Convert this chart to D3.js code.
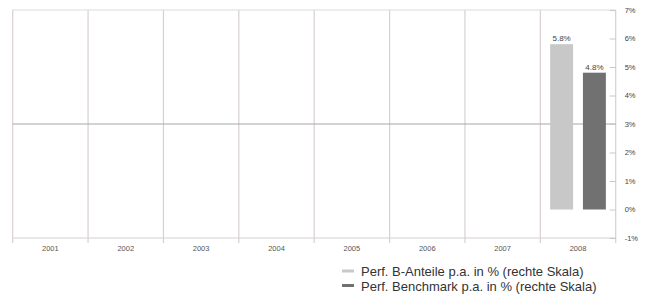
<!DOCTYPE html>
<html>
<head>
<meta charset="utf-8">
<script src="https://cdn.jsdelivr.net/npm/d3@7"></script>
<style>
  body { margin: 0; background: #fff; }
  svg { display: block; font-family: "Liberation Sans", Arial, sans-serif; }
</style>
</head>
<body>
<svg id="chart" width="648" height="294"></svg>
<script>
// chart data
const years = ["2001", "2002", "2003", "2004", "2005", "2006", "2007", "2008"];
const perfAnteile = [null, null, null, null, null, null, null, 5.8];
const perfBenchmark = [null, null, null, null, null, null, null, 4.8];
const seriesNames = ["Perf. B-Anteile p.a. in % (rechte Skala)", "Perf. Benchmark p.a. in % (rechte Skala)"];
const seriesColors = ["#c8c8c8", "#717171"];
const yTicks = [-1, 0, 1, 2, 3, 4, 5, 6, 7];

function drawChart(holder){
	let svg = d3.select(holder);
	let margin = {"left": 12.7, "top": 10, "right": 32.3, "bottom": 56};
	let width = +svg.attr("width");
	let height = +svg.attr("height");
	let x0 = margin.left, x1 = width - margin.right;
	let y0 = margin.top, y1 = height - margin.bottom;

	let xScale = d3.scaleBand()
		.domain(years)
		.range([x0, x1]);
	let inner = d3.scaleBand()
		.domain(seriesNames)
		.range([0, xScale.bandwidth()])
		.paddingInner(0.3)
		.paddingOuter(0.3);
	let yScale = d3.scaleLinear()
		.domain([-1, 7])
		.range([y1, y0]);

	let grid = svg.append("g");
	// vertical grid / borders
	grid.selectAll("line.v")
		.data(years.map(y => xScale(y)).concat([x1]))
		.enter()
		.append("line")
		.attr("x1", d => d).attr("x2", d => d)
		.attr("y1", y0).attr("y2", y1 + 5)
		.attr("stroke", "#d8cfd2")
		.attr("stroke-width", 1.2);
	// top border
	grid.append("line")
		.attr("x1", x0).attr("x2", x1)
		.attr("y1", y0).attr("y2", y0)
		.attr("stroke", "#dcdcdc").attr("stroke-width", 1.2);
	// bottom axis line
	grid.append("line")
		.attr("x1", x0).attr("x2", x1)
		.attr("y1", y1).attr("y2", y1)
		.attr("stroke", "#d8cfd2").attr("stroke-width", 1.2);
	// line at 3%
	grid.append("line")
		.attr("x1", x0).attr("x2", x1)
		.attr("y1", yScale(3)).attr("y2", yScale(3))
		.attr("stroke", "#a8a8a8").attr("stroke-width", 1.2);

	// right axis
	let axisY = svg.append("g")
		.attr("transform", "translate(" + x1 + ",0)")
		.call(d3.axisRight(yScale).tickValues(yTicks).tickSize(-6).tickPadding(9).tickFormat(d => d + "%"));
	axisY.select(".domain").remove();
	axisY.selectAll(".tick line").attr("stroke", "#c8c8c8");
	axisY.selectAll(".tick text")
		.attr("fill", "#444")
		.style("font-size", "7.5px")
		.attr("text-anchor", "start");

	// x labels
	svg.append("g").selectAll("text.xLabel")
		.data(years)
		.enter()
		.append("text")
		.attr("class", "xLabel")
		.attr("x", d => xScale(d) + xScale.bandwidth() / 2)
		.attr("y", y1 + 13)
		.attr("text-anchor", "middle")
		.attr("fill", "#555")
		.style("font-size", "7.5px")
		.text(d => d);

	// bars
	let series = [perfAnteile, perfBenchmark];
	let barData = [];
	years.forEach(function(yr, i){
		series.forEach(function(s, j){
			if (s[i] != null){
				barData.push({"year": yr, "name": seriesNames[j], "value": s[i], "color": seriesColors[j]});
			}
		});
	});

	let bars = svg.append("g");
	bars.selectAll("rect")
		.data(barData)
		.enter()
		.append("rect")
		.attr("x", d => xScale(d.year) + inner(d.name))
		.attr("width", inner.bandwidth())
		.attr("y", d => yScale(Math.max(0, d.value)))
		.attr("height", d => Math.abs(yScale(d.value) - yScale(0)))
		.attr("fill", d => d.color);

	bars.selectAll("text")
		.data(barData)
		.enter()
		.append("text")
		.attr("x", d => xScale(d.year) + inner(d.name) + inner.bandwidth() / 2)
		.attr("y", d => yScale(d.value) - 3)
		.attr("text-anchor", "middle")
		.attr("fill", "#444")
		.style("font-size", "8px")
		.text(d => d3.format(".1f")(d.value) + "%");

	// legend
	let legend = svg.append("g").selectAll("g.leg")
		.data(seriesNames)
		.enter()
		.append("g")
		.attr("class", "leg")
		.attr("transform", (d, i) => "translate(342," + (271 + i * 14.5) + ")");
	legend.append("line")
		.attr("x1", 0).attr("x2", 12)
		.attr("y1", 0).attr("y2", 0)
		.attr("stroke", (d, i) => seriesColors[i])
		.attr("stroke-width", 3);
	legend.append("text")
		.attr("x", 19)
		.attr("y", 5)
		.attr("fill", "#333")
		.style("font-size", "13px")
		.text(d => d);
}

drawChart("#chart");
</script>
</body>
</html>
